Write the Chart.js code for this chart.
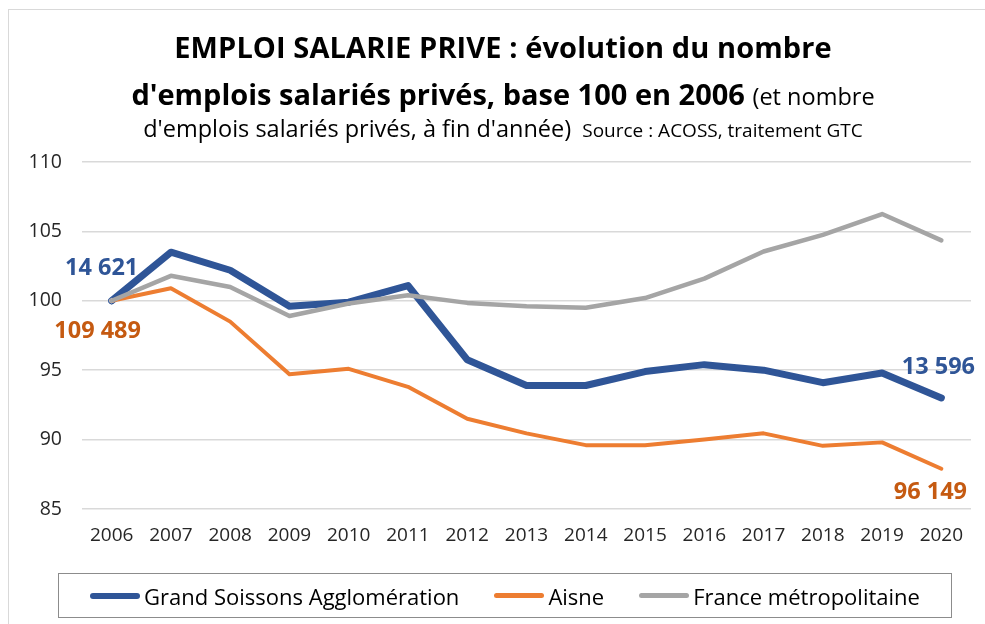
<!DOCTYPE html>
<html lang="fr">
<head>
<meta charset="UTF-8">
<title>Emploi salarié privé</title>
<script src="https://cdn.jsdelivr.net/npm/chart.js"></script>
<style>
  body { margin: 0; background: #fff; font-family: "Open Sans", sans-serif; color: #000; }
  #wrap { position: relative; width: 985px; height: 624px; overflow: hidden; }
  #frame { position: absolute; left: 8px; top: 9px; width: 1200px; height: 800px; border: 1px solid #d9d9d9; }
  #chartBox { position: absolute; left: 0; top: 0; width: 985px; height: 624px; }
  .tl { position: absolute; left: 503px; transform: translateX(-50%); white-space: nowrap; }
  #t1 { top: 29px; font-size: 29px; font-weight: bold; line-height: 36px; letter-spacing: 0.1px; }
  #t2 { top: 76px; font-size: 29px; font-weight: bold; line-height: 36px; }
  #t2 span { font-size: 23.5px; font-weight: normal; }
  #t3 { top: 113px; font-size: 23.5px; line-height: 30px; }
  #t3 span { font-size: 19px; }
  #legend { position: absolute; left: 58px; top: 573px; width: 892px; height: 43px; border: 1.5px solid #8c8c8c;
            display: flex; align-items: center; justify-content: center; gap: 35px; font-size: 22px; }
  .item { display: flex; align-items: center; gap: 4px; }
  .swatch { width: 50px; border-radius: 4px; }
</style>
</head>
<body>
<div id="wrap">
  <div id="frame"></div>
  <div id="chartBox"><canvas id="chart"></canvas></div>
  <div class="tl" id="t1">EMPLOI SALARIE PRIVE : évolution du nombre</div>
  <div class="tl" id="t2">d'emplois salariés privés, base 100 en 2006 <span>(et nombre</span></div>
  <div class="tl" id="t3">d'emplois salariés privés, à fin d'année) <span>&nbsp;Source : ACOSS, traitement GTC</span></div>
  <div id="legend"></div>
</div>
<script>
  const years = ['2006', '2007', '2008', '2009', '2010', '2011', '2012', '2013', '2014', '2015', '2016', '2017', '2018', '2019', '2020'];
  const grandSoissons = [100, 103.5, 102.2, 99.6, 99.9, 101.1, 95.75, 93.9, 93.9, 94.9, 95.4, 95.0, 94.1, 94.8, 93.0];
  const aisne = [100, 100.9, 98.5, 94.7, 95.1, 93.8, 91.5, 90.45, 89.6, 89.6, 90.0, 90.45, 89.55, 89.8, 87.9];
  const france = [100, 101.8, 101.0, 98.9, 99.8, 100.4, 99.85, 99.6, 99.5, 100.2, 101.6, 103.55, 104.75, 106.25, 104.35];
  const gsLabels = ['14 621', '13 596'];
  const aisneLabels = ['109 489', '96 149'];
  const yMin = 85, yMax = 110, yStep = 5;

  // numbers written at the first and last point of two series
  const endLabelPlugin = {
    id: 'endLabels',
    afterDatasetsDraw(chart) {
      const ctx = chart.ctx;
      chart.data.datasets.forEach((ds, i) => {
        if (!ds.endLabels) return;
        const pts = chart.getDatasetMeta(i).data;
        const first = pts[0], last = pts[pts.length - 1];
        ctx.save();
        ctx.font = 'bold 23.5px "Open Sans"';
        ctx.fillStyle = ds.labelColor;
        ctx.textAlign = 'center';
        ctx.textBaseline = 'middle';
        ctx.fillText(ds.endLabels[0], first.x + ds.labelOffsets[0][0], first.y + ds.labelOffsets[0][1]);
        ctx.fillText(ds.endLabels[1], last.x + ds.labelOffsets[1][0], last.y + ds.labelOffsets[1][1]);
        ctx.restore();
      });
    }
  };

  const datasets = [
    {
      label: 'Grand Soissons Agglomération', data: grandSoissons,
      borderColor: '#2f5597', backgroundColor: '#ffffff', borderWidth: 7, order: 2,
      pointRadius: c => c.dataIndex === 0 ? 3 : 0, pointBorderWidth: 1, pointBorderColor: '#2f5597',
      endLabels: gsLabels, labelColor: '#2f5597', labelOffsets: [[-10, -32], [-3, -31]]
    },
    {
      label: 'Aisne', data: aisne,
      borderColor: '#ed7d31', backgroundColor: '#ed7d31', borderWidth: 4, order: 1, pointRadius: 0,
      endLabels: aisneLabels, labelColor: '#c55a11', labelOffsets: [[-14, 31], [-11, 24]]
    },
    {
      label: 'France métropolitaine', data: france,
      borderColor: '#a5a5a5', backgroundColor: '#a5a5a5', borderWidth: 4.5, order: 0, pointRadius: 0
    }
  ];

  Chart.defaults.font.family = '"Open Sans"';
  Chart.defaults.color = '#262626';

  new Chart(document.getElementById('chart'), {
    type: 'line',
    data: {
      labels: years,
      datasets: datasets.map(d => Object.assign({ fill: false, tension: 0, borderCapStyle: 'round', borderJoinStyle: 'round' }, d))
    },
    options: {
      responsive: true,
      maintainAspectRatio: false,
      animation: false,
      layout: { padding: { top: 162, right: 14, left: 0, bottom: 0 } },
      plugins: { legend: { display: false }, tooltip: { enabled: false } },
      scales: {
        x: {
          offset: true,
          grid: { display: false, drawTicks: false },
          border: { display: false },
          ticks: { font: { size: 19 }, padding: 15, maxRotation: 0, autoSkip: false },
          afterFit: s => { s.height = 115; }
        },
        y: {
          min: yMin, max: yMax,
          grid: { color: '#d9d9d9', lineWidth: 1.5, drawTicks: false },
          border: { display: false },
          ticks: { stepSize: yStep, font: { size: 19.5 }, padding: 20 },
          afterFit: s => { s.width = 82; }
        }
      }
    },
    plugins: [endLabelPlugin]
  });

  const legend = document.getElementById('legend');
  datasets.forEach(d => {
    const item = document.createElement('div');
    item.className = 'item';
    const sw = document.createElement('div');
    sw.className = 'swatch';
    sw.style.background = d.borderColor;
    sw.style.height = (d.borderWidth >= 6 ? 6 : 5) + 'px';
    const txt = document.createElement('span');
    txt.textContent = d.label;
    item.appendChild(sw);
    item.appendChild(txt);
    legend.appendChild(item);
  });
</script>
</body>
</html>
